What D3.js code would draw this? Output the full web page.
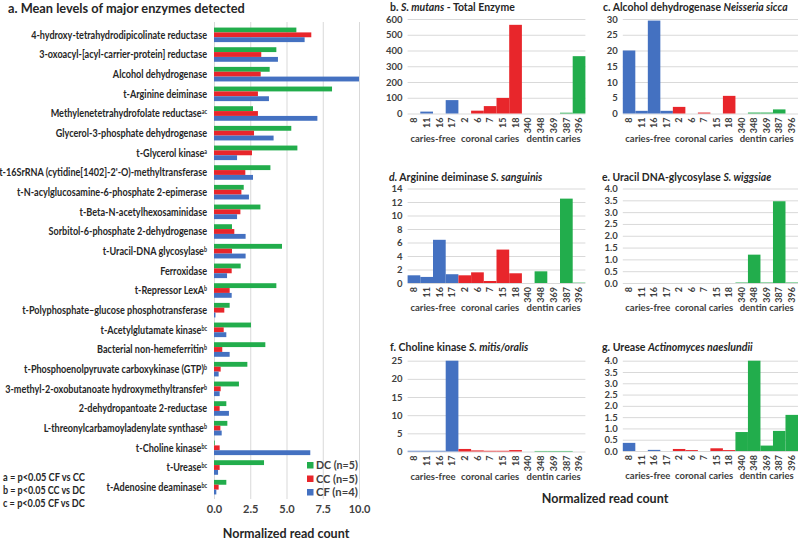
<!DOCTYPE html>
<html>
<head>
<meta charset="utf-8">
<script src="https://cdn.jsdelivr.net/npm/d3@7"></script>
<style>
  body { margin: 0; background: #fff; }
  svg { font-family: Lato, "Open Sans", sans-serif; }
</style>
</head>
<body>
<svg id="chart" width="800" height="540"></svg>
<script>
// ---- panel a: mean normalized read counts per enzyme ----
var enzymes = [
  "4-hydroxy-tetrahydrodipicolinate reductase",
  "3-oxoacyl-[acyl-carrier-protein] reductase",
  "Alcohol dehydrogenase",
  "t-Arginine deiminase",
  "Methylenetetrahydrofolate reductase",
  "Glycerol-3-phosphate dehydrogenase",
  "t-Glycerol kinase",
  "t-16SrRNA (cytidine[1402]-2'-O)-methyltransferase",
  "t-N-acylglucosamine-6-phosphate 2-epimerase",
  "t-Beta-N-acetylhexosaminidase",
  "Sorbitol-6-phosphate 2-dehydrogenase",
  "t-Uracil-DNA glycosylase",
  "Ferroxidase",
  "t-Repressor LexA",
  "t-Polyphosphate\u2013glucose phosphotransferase",
  "t-Acetylglutamate kinase",
  "Bacterial non-hemeferritin",
  "t-Phosphoenolpyruvate carboxykinase (GTP)",
  "3-methyl-2-oxobutanoate hydroxymethyltransfer",
  "2-dehydropantoate 2-reductase",
  "L-threonylcarbamoyladenylate synthase",
  "t-Choline kinase",
  "t-Urease",
  "t-Adenosine deaminase"
];
var enzymeSup = ["", "", "", "", "ac", "", "a", "", "", "", "", "b", "", "b", "", "bc", "b", "b", "b", "", "b", "bc", "bc", "bc"];
var dcMeans = [5.68, 4.3, 3.84, 8.14, 2.69, 5.33, 5.75, 3.89, 2.05, 3.2, 1.24, 4.69, 1.84, 4.3, 1.08, 2.55, 3.54, 2.3, 1.72, 0.85, 0.92, 0.05, 3.45, 0.85];
var ccMeans = [6.71, 3.26, 3.22, 3.03, 3.03, 2.76, 2.62, 2.16, 1.89, 1.82, 1.4, 1.24, 1.22, 1.08, 0.71, 0.67, 0.57, 0.46, 0.46, 0.39, 0.44, 0.39, 0.39, 0.32];
var cfMeans = [6.25, 4.41, 10.0, 3.79, 7.13, 4.11, 1.59, 2.69, 2.41, 1.59, 2.18, 2.18, 0.9, 1.22, 0.1, 0.85, 1.08, 0.32, 0.39, 1.03, 0.53, 6.64, 0.28, 0.16];
var seriesNames = ["DC (n=5)", "CC (n=5)", "CF (n=4)"];
var seriesColors = ["#22ad4c", "#e8262b", "#4471c1"];
var xTicksA = [0, 2.5, 5, 7.5, 10];
var footnotes = ["a = p<0.05  CF vs CC", "b = p<0.05  CC vs DC", "c = p<0.05  CF vs DC"];

// ---- panels b-g: per-sample read counts ----
var samples = ["8", "11", "16", "17", "2", "6", "7", "15", "18", "340", "348", "369", "387", "396"];
var sampleGroups = ["caries-free", "coronal caries", "dentin caries"];
var groupSizes = [4, 5, 5];
var groupColors = ["#4471c1", "#e8262b", "#22ad4c"];
var mutansTotal = [0, 12, 0, 85, 0, 18, 47, 99, 563, 0, 0, 0, 5, 364];
var adhNeisseria = [20, 0.85, 29.5, 0.85, 2.1, 0, 0.3, 0, 5.6, 0, 0.3, 0.3, 1.3, 0];
var argSanguinis = [1.14, 0.9, 6.4, 1.3, 1.14, 1.58, 0.3, 4.95, 1.44, 0, 1.73, 0, 12.5, 0.05];
var udgWiggsiae = [0, 0, 0, 0, 0, 0, 0, 0, 0, 0.02, 1.2, 0.02, 3.46, 0.02];
var chkMitis = [0.2, 0.2, 0.2, 25, 0.7, 0.3, 0.2, 0.2, 0.4, 0, 0.15, 0.15, 0.15, 0];
var ureNaeslundii = [0.36, 0, 0.05, 0, 0.09, 0.04, 0, 0.12, 0.04, 0.84, 4.0, 0.24, 0.89, 1.6];

var svg = d3.select("#chart");
var grid = "#d9d9d9", ink = "#404040", dark = "#262626";

function squeeze(t, x, y, w) {
  var k = w / t.node().getBBox().width;
  t.attr("transform", "translate(" + x + "," + y + ") scale(" + k + ",1)");
}

// ---------- panel a ----------
var xA = d3.scaleLinear().domain([0, 10]).range([214, 359]).clamp(true);
var yA = d3.scaleBand().domain(enzymes).range([25, 497]).paddingInner(0.26).paddingOuter(0.13);
var ySer = d3.scaleBand().domain([0, 1, 2]).range([0, yA.bandwidth()]);
var means = [dcMeans, ccMeans, cfMeans];

var axA = svg.append("g").attr("transform", "translate(0,499)")
  .call(d3.axisBottom(xA).tickValues(xTicksA).tickFormat(d3.format(".1f")).tickSize(-477).tickPadding(6));
axA.select(".domain").remove();
axA.selectAll(".tick line").attr("stroke", grid);
axA.selectAll(".tick text").attr("font-size", 11).attr("font-weight", "bold").attr("fill", ink)
  .attr("font-family", "Lato, sans-serif");

svg.append("g").selectAll("g").data(enzymes).join("g")
  .attr("transform", function(d) { return "translate(0," + yA(d) + ")"; })
  .selectAll("rect")
  .data(function(d, i) { return means.map(function(m, s) { return { s: s, v: m[i] }; }); })
  .join("rect")
  .attr("x", xA(0))
  .attr("y", function(d) { return ySer(d.s); })
  .attr("width", function(d) { return xA(d.v) - xA(0); })
  .attr("height", ySer.bandwidth())
  .attr("fill", function(d) { return seriesColors[d.s]; });

var labG = svg.append("g");
var labs = labG.selectAll("text").data(enzymes).join("text")
  .attr("y", function(d) { return yA(d) + yA.bandwidth() / 2; })
  .attr("dy", "0.35em")
  .attr("text-anchor", "end")
  .attr("font-size", 11).attr("font-weight", "bold").attr("fill", dark)
  .text(function(d) { return d; });
var kLab = 176 / labs.node().getBBox().width;
labs.filter(function(d, i) { return enzymeSup[i]; })
  .append("tspan").attr("font-size", 6.5).attr("dy", "-0.45em")
  .text(function(d) { return enzymeSup[enzymes.indexOf(d)]; });
labG.attr("transform", "translate(207,0) scale(" + kLab + ",1)");

var tA = svg.append("text").attr("font-size", 13.5).attr("font-weight", "bold").attr("fill", dark)
  .text("a. Mean levels of major enzymes detected");
squeeze(tA, 8, 13, 237);

// legend
var leg = svg.append("g").selectAll("g").data(seriesNames).join("g")
  .attr("transform", function(d, i) { return "translate(307," + (462 + i * 13.5) + ")"; });
leg.append("rect").attr("width", 6.5).attr("height", 6.5)
  .attr("fill", function(d, i) { return seriesColors[i]; });
leg.each(function(d) {
  var t = d3.select(this).append("text").attr("font-size", 10.5).attr("font-weight", "bold")
    .attr("fill", ink).text(d);
  squeeze(t, 9, 7, 42);
});

// footnotes
footnotes.forEach(function(f, i) {
  var t = svg.append("text").attr("font-size", 10.5).attr("font-weight", "bold").attr("fill", dark).text(f);
  squeeze(t, 3, 480.5 + i * 13, 82);
});

function axisTitle(x, y) {
  var t = svg.append("text").attr("text-anchor", "middle").attr("font-size", 12.5)
    .attr("font-weight", "bold").attr("fill", dark).text("Normalized read count");
  squeeze(t, x, y, 127);
}
axisTitle(286, 538);
axisTitle(605, 503);

// ---------- panels b-g ----------
function smallPanel(p) {
  var x = d3.scaleBand().domain(samples).range(p.xr);
  var y = d3.scaleLinear().domain([0, p.max]).range([p.y0, p.y1]);
  var g = svg.append("g");

  var ya = g.append("g").attr("transform", "translate(" + p.xr[0] + ",0)")
    .call(d3.axisLeft(y).tickValues(d3.range(0, p.max + p.step / 2, p.step))
      .tickFormat(d3.format(p.fmt)).tickSize(-(p.xr[1] - p.xr[0])).tickPadding(5));
  ya.select(".domain").remove();
  ya.selectAll(".tick line").attr("stroke", grid);
  ya.selectAll(".tick text").attr("font-size", 9.5).attr("font-weight", "bold").attr("fill", ink)
    .attr("font-family", "Lato, sans-serif");

  var groupOf = [];
  groupSizes.forEach(function(n, gi) { for (var k = 0; k < n; k++) groupOf.push(gi); });

  g.append("g").selectAll("rect").data(p.values).join("rect")
    .attr("x", function(d, i) { return x(samples[i]); })
    .attr("width", x.bandwidth())
    .attr("y", function(d) { return y(d); })
    .attr("height", function(d) { return y(0) - y(d); })
    .attr("fill", function(d, i) { return groupColors[groupOf[i]]; });

  var xa = g.append("g").attr("transform", "translate(0," + p.y0 + ")")
    .call(d3.axisBottom(x).tickSize(0));
  xa.select(".domain").remove();
  xa.selectAll(".tick text").attr("transform", "rotate(-90)").attr("text-anchor", "end")
    .attr("x", -4).attr("y", 0).attr("dy", "0.35em")
    .attr("font-size", 9).attr("font-weight", "bold").attr("fill", ink)
    .attr("font-family", "Lato, sans-serif");

  var start = 0;
  groupSizes.forEach(function(n, gi) {
    var a = x(samples[start]), b = x(samples[start + n - 1]) + x.bandwidth();
    g.append("text").attr("x", (a + b) / 2).attr("y", p.y0 + 28).attr("text-anchor", "middle")
      .attr("font-size", 9.5).attr("font-weight", "bold").attr("fill", ink).text(sampleGroups[gi]);
    start += n;
  });

  var t = g.append("text").attr("font-size", 11).attr("font-weight", "bold").attr("fill", dark);
  p.title.forEach(function(part) {
    t.append("tspan").attr("font-style", part[1] ? "italic" : "normal").text(part[0]);
  });
  squeeze(t, p.tx, p.ty, p.tw);
}

var leftX = [407.6, 585.4], rightX = [622.8, 798];
smallPanel({ values: mutansTotal, max: 600, step: 100, fmt: "d", xr: leftX, y0: 113.5, y1: 19,
  title: [["b. ", 0], ["S. mutans", 1], [" - Total Enzyme", 0]], tx: 390, ty: 11, tw: 125 });
smallPanel({ values: adhNeisseria, max: 30, step: 5, fmt: "d", xr: rightX, y0: 113.5, y1: 19,
  title: [["c. Alcohol dehydrogenase  ", 0], ["Neisseria sicca", 1]], tx: 603, ty: 11, tw: 185 });
smallPanel({ values: argSanguinis, max: 14, step: 2, fmt: "d", xr: leftX, y0: 283, y1: 188.5,
  title: [["d.", 1], [" Arginine deiminase ", 0], ["S. sanguinis", 1]], tx: 389, ty: 181, tw: 154 });
smallPanel({ values: udgWiggsiae, max: 4, step: 0.5, fmt: ".1f", xr: rightX, y0: 283, y1: 188.5,
  title: [["e. Uracil DNA-glycosylase ", 0], ["S. wiggsiae", 1]], tx: 602, ty: 181, tw: 170 });
smallPanel({ values: chkMitis, max: 25, step: 5, fmt: "d", xr: leftX, y0: 451.5, y1: 360.7,
  title: [["f. Choline kinase ", 0], ["S. mitis/oralis", 1]], tx: 390, ty: 351, tw: 139 });
smallPanel({ values: ureNaeslundii, max: 4, step: 0.5, fmt: ".1f", xr: rightX, y0: 451, y1: 360.7,
  title: [["g. Urease ", 0], ["Actinomyces naeslundii", 1]], tx: 602, ty: 351, tw: 151 });
</script>
</body>
</html>
